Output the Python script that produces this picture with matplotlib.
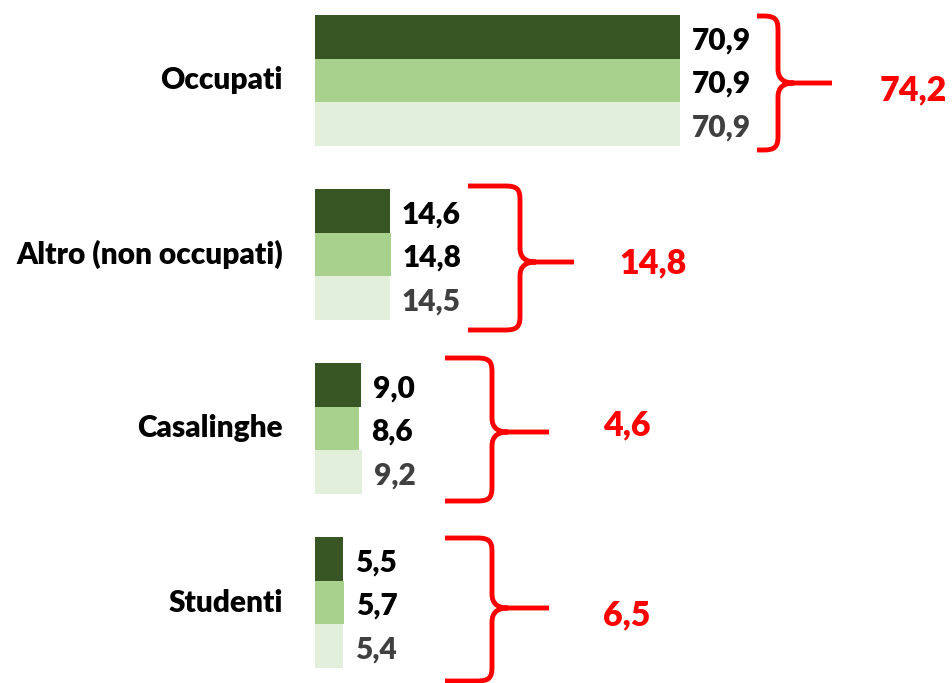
import matplotlib.pyplot as plt
from matplotlib.path import Path
from matplotlib.patches import PathPatch

plt.rcParams['font.family'] = ['Lato', 'DejaVu Sans']

# ---- data ----
categories = ["Occupati", "Altro (non occupati)", "Casalinghe", "Studenti"]
serie_1 = [70.9, 14.6, 9.0, 5.5]
serie_2 = [70.9, 14.8, 8.6, 5.7]
serie_3 = [70.9, 14.5, 9.2, 5.4]
totali = [74.2, 14.8, 4.6, 6.5]

colors = ["#375623", "#A9D18E", "#E2EFDA"]
label_colors = ["black", "black", "#404040"]

# brace layout in pixels: (x_left, x_vertical, x_tip, y_top, y_mid, y_bottom)
braces = [
    (757, 778, 832, 16, 83, 150),
    (468, 520, 574, 186, 262, 330),
    (445, 492, 549, 358, 432, 501),
    (445, 492, 549, 538, 608, 681),
]
total_pos = [(913, 90), (653, 263), (627, 425), (627, 615)]

W, H = 953, 683
fig = plt.figure(figsize=(W / 100, H / 100), dpi=100)

# main axes covers the whole figure; 5.15 px per unit, bars start at x=315
px_per_unit = 5.15
ax = fig.add_axes([0, 0, 1, 1])
ax.set_xlim(-315 / px_per_unit, (W - 315) / px_per_unit)
ax.set_ylim((H - 80.5) / 174, -80.5 / 174)
ax.axis('off')

h = 0.25
for j, serie in enumerate([serie_1, serie_2, serie_3]):
    ys = [i + (j - 1) * h for i in range(len(categories))]
    ax.barh(ys, serie, height=h, color=colors[j], linewidth=0)
    for y, v in zip(ys, serie):
        ax.annotate(f"{v:.1f}".replace('.', ','), (v, y), xytext=(8.5, -2.5),
                    textcoords='offset points', ha='left', va='center',
                    fontsize=21.5, fontweight='heavy', color=label_colors[j])

for i, name in enumerate(categories):
    ax.annotate(name, (0, i), xytext=(-23, 0), textcoords='offset points',
                ha='right', va='center', fontsize=21.5, fontweight='heavy', color='black')

# ---- braces and totals (overlay in pixel coordinates) ----
ov = fig.add_axes([0, 0, 1, 1], facecolor='none')
ov.set_xlim(0, W)
ov.set_ylim(H, 0)
ov.axis('off')

for (x0, xv, xt, yt, ym, yb), tot, (tx, ty) in zip(braces, totali, total_pos):
    verts = [
        (x0, yt), (xv - 15, yt),
        (xv - 3, yt), (xv, yt + 3), (xv, yt + 14),
        (xv, ym - 14),
        (xv, ym - 4), (xv + 6, ym), (xv + 16, ym),
        (xt, ym),
        (xv + 16, ym),
        (xv + 6, ym), (xv, ym + 4), (xv, ym + 14),
        (xv, yb - 14),
        (xv, yb - 3), (xv - 3, yb), (xv - 15, yb),
        (x0, yb),
    ]
    codes = [Path.MOVETO, Path.LINETO,
             Path.CURVE4, Path.CURVE4, Path.CURVE4,
             Path.LINETO,
             Path.CURVE4, Path.CURVE4, Path.CURVE4,
             Path.LINETO,
             Path.MOVETO,
             Path.CURVE4, Path.CURVE4, Path.CURVE4,
             Path.LINETO,
             Path.CURVE4, Path.CURVE4, Path.CURVE4,
             Path.LINETO]
    ov.add_patch(PathPatch(Path(verts, codes), fill=False, edgecolor='#FF0000',
                           linewidth=3.5, capstyle='butt', joinstyle='round'))
    ov.text(tx, ty, f"{tot:.1f}".replace('.', ','), ha='center', va='center',
            fontsize=24.5, fontweight='heavy', color='#FF0000')

fig.savefig("out.png", dpi=100)
